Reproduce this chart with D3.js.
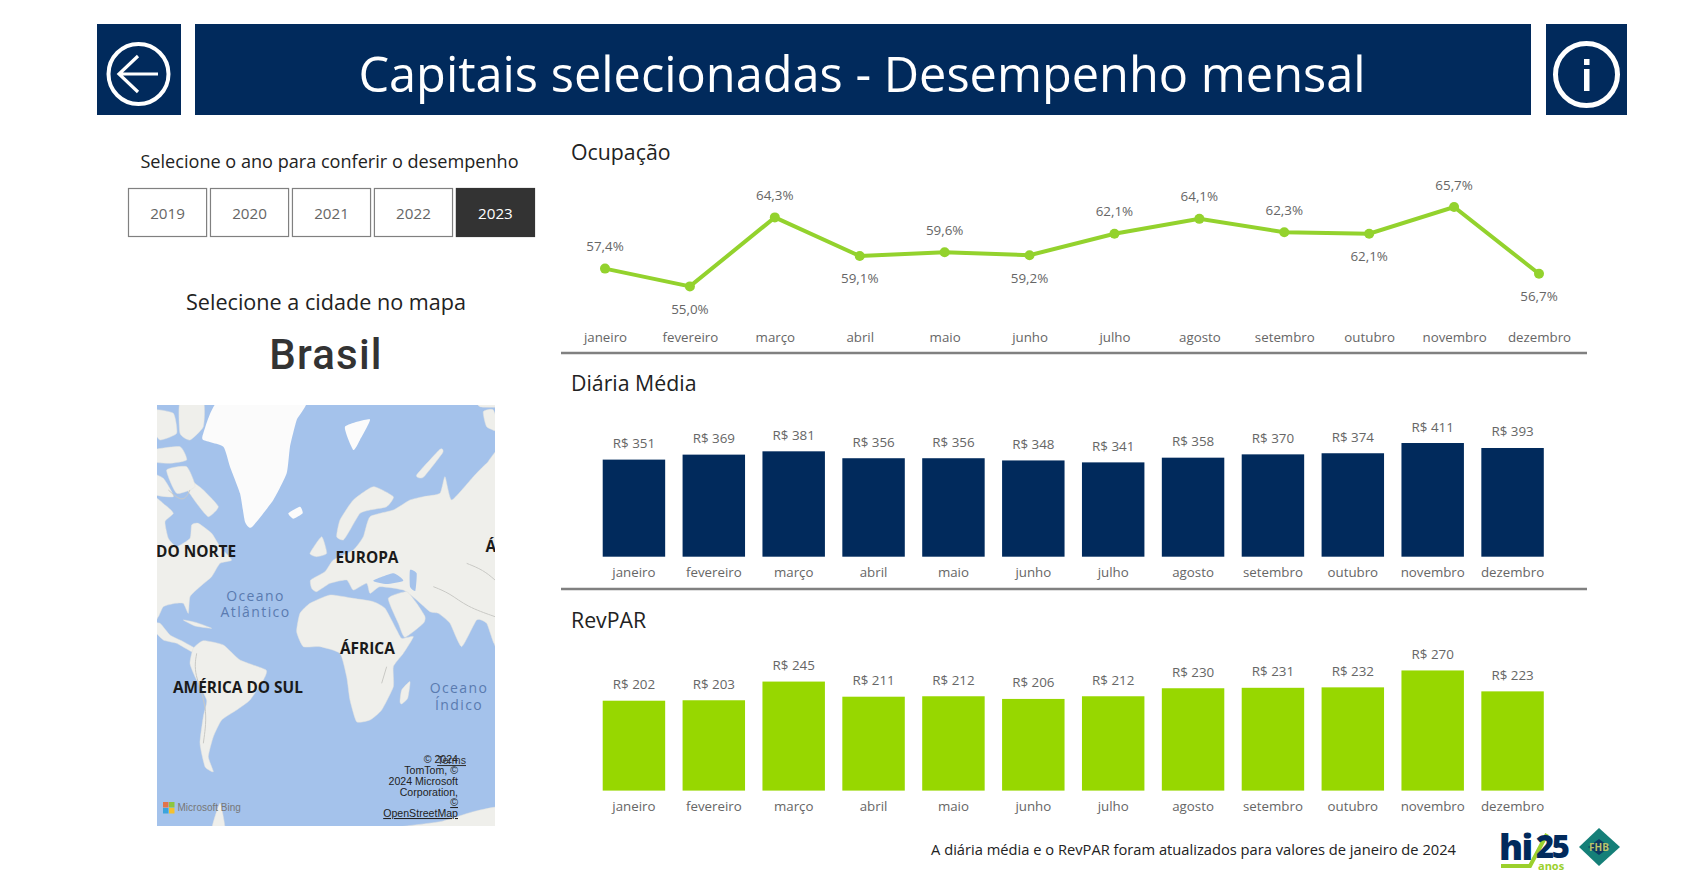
<!DOCTYPE html>
<html lang="pt-BR"><head><meta charset="utf-8">
<script src="https://cdn.jsdelivr.net/npm/d3@7/dist/d3.min.js"></script>
<style>
html,body{margin:0;padding:0;background:#fff;overflow:hidden}
svg{display:block}
text{font-family:"Open Sans","Noto Sans",sans-serif}
</style></head><body><div id="c"></div>
<script>
const months=["janeiro","fevereiro","março","abril","maio","junho","julho","agosto","setembro","outubro","novembro","dezembro"];
const ocupacao=[57.4,55.0,64.3,59.1,59.6,59.2,62.1,64.1,62.3,62.1,65.7,56.7];
const ocupacaoLabelBelow=[false,true,false,true,false,true,false,false,false,true,false,true];
const diaria=[351,369,381,356,356,348,341,358,370,374,411,393];
const revpar=[202,203,245,211,212,206,212,230,231,232,270,223];
const anos=["2019","2020","2021","2022","2023"];
const anoSelecionado="2023";

const NAVY="#012a5c",GREEN="#97d700",LINE="#93d22d",GREY="#666";
const svg=d3.select("#c").append("svg").attr("width",1682).attr("height",886);
svg.append("rect").attr("width",1682).attr("height",886).attr("fill","#fff");

// header
const head=svg.append("g");
head.append("rect").attr("x",97).attr("y",24).attr("width",84).attr("height",91).attr("fill",NAVY);
head.append("rect").attr("x",195).attr("y",24).attr("width",1336).attr("height",91).attr("fill",NAVY);
head.append("rect").attr("x",1546).attr("y",24).attr("width",81).attr("height",91).attr("fill",NAVY);
head.append("text").attr("x",862).attr("y",92).attr("text-anchor","middle").attr("fill","#fff")
  .attr("font-size",48.7).text("Capitais selecionadas - Desempenho mensal");
head.append("circle").attr("cx",138.5).attr("cy",74).attr("r",30).attr("fill","none").attr("stroke","#fff").attr("stroke-width",4);
head.append("path").attr("d","M158 74H120M138 56L119 74L138 92").attr("fill","none").attr("stroke","#fff").attr("stroke-width",3.2);
head.append("circle").attr("cx",1586.5).attr("cy",74.5).attr("r",31).attr("fill","none").attr("stroke","#fff").attr("stroke-width",5);
head.append("rect").attr("x",1584).attr("y",59).attr("width",5.5).attr("height",6).attr("fill","#fff");
head.append("rect").attr("x",1584).attr("y",69).attr("width",5.5).attr("height",22).attr("fill","#fff");

// year slicer
svg.append("text").attr("x",329.5).attr("y",168).attr("text-anchor","middle").attr("fill","#222").attr("font-size",18.1)
  .text("Selecione o ano para conferir o desempenho");
const yearX=d3.scaleBand().domain(anos).range([128,535]).paddingInner(0.035);
const yr=svg.selectAll("g.yr").data(anos).join("g").attr("class","yr");
yr.append("rect").attr("x",d=>yearX(d)+.5).attr("y",188.5).attr("width",yearX.bandwidth()-1).attr("height",48)
  .attr("fill",d=>d===anoSelecionado?"#333":"#fff").attr("stroke",d=>d===anoSelecionado?"#333":"#808080").attr("stroke-width",1.2);
yr.append("text").attr("x",d=>yearX(d)+yearX.bandwidth()/2).attr("y",219).attr("text-anchor","middle")
  .attr("font-size",15.2).attr("fill",d=>d===anoSelecionado?"#fff":"#666").text(d=>d);

svg.append("text").attr("x",326).attr("y",310).attr("text-anchor","middle").attr("fill","#222").attr("font-size",21.6)
  .text("Selecione a cidade no mapa");
svg.append("text").attr("x",326).attr("y",369).attr("text-anchor","middle").attr("fill","#333").attr("font-size",42)
  .attr("font-weight",500).style("font-family","Roboto").style("letter-spacing","1.2px").text("Brasil");

// map (schematic background, coordinates in 3x crop units)
const defs=svg.append("defs");
defs.append("clipPath").attr("id","mc").append("rect").attr("x",157).attr("y",405).attr("width",338).attr("height",421);
const mapG=svg.append("g").attr("clip-path","url(#mc)");
mapG.append("rect").attr("x",157).attr("y",405).attr("width",338).attr("height",421).attr("fill","#a4c2eb");
const m=mapG.append("g").attr("transform","translate(140,390) scale(0.33333)");
const blob=d3.line().curve(d3.curveCardinalClosed.tension(.5));
const lands=[
 [[30,330],[75,345],[100,370],[75,395],[85,445],[110,470],[150,445],[155,405],[175,400],[215,430],[240,470],[275,510],[240,520],[215,560],[180,590],[150,620],[145,670],[130,640],[105,640],[70,650],[55,680],[30,700]],
 [[150,270],[190,300],[235,350],[205,380],[170,340],[130,280]],
 [[120,35],[190,35],[190,110],[150,150],[120,130]],
 [[40,60],[100,70],[110,130],[60,150],[40,120]],
 [[40,180],[120,170],[140,210],[90,220],[40,215]],
 [[80,240],[140,230],[165,290],[110,310]],
 [[30,250],[70,265],[100,320],[30,310]],
 [[130,690],[170,698],[215,715],[165,708]],
 [[30,700],[60,700],[90,735],[130,755],[165,775],[155,785],[110,760],[70,750],[40,720]],
 [[160,775],[190,752],[250,765],[300,810],[378,840],[370,870],[330,930],[290,960],[245,990],[220,1040],[205,1100],[220,1145],[195,1130],[180,1060],[190,980],[200,930],[165,860],[150,820]],
 [[470,725],[480,670],[510,640],[570,615],[640,625],[700,635],[735,655],[770,720],[785,745],[820,740],[790,790],[760,830],[760,890],[725,960],[690,990],[650,995],[630,930],[620,860],[600,790],[540,770],[490,770]],
 [[780,935],[785,900],[810,875],[803,925],[785,942]],
 [[515,595],[512,570],[555,545],[580,510],[640,480],[670,440],[690,380],[760,360],[810,330],[850,320],[900,310],[915,260],[935,330],[1000,260],[1040,220],[1090,190],[1090,790],[1062,760],[1040,700],[1010,690],[965,770],[930,700],[895,670],[870,665],[830,630],[790,600],[720,590],[690,610],[680,580],[640,600],[620,570],[570,580],[530,605]],
 [[590,440],[600,390],[640,330],[700,290],[760,320],[740,350],[690,360],[660,370],[630,420],[610,450]],
 [[745,625],[800,605],[830,640],[855,680],[850,700],[795,742],[775,700]],
 [[510,490],[545,440],[560,490],[530,500]],
 [[830,255],[900,178],[908,188],[850,262]],
 [[1030,65],[1060,60],[1080,125],[1040,110]],
 [[1000,20],[1090,20],[1090,50],[1020,50]],
 [[720,1320],[900,1295],[1000,1265],[1090,1250],[1090,1320]],
 [[215,1320],[240,1240],[255,1320]]
];
const whites=[
 [[190,130],[240,30],[495,30],[470,90],[450,170],[440,250],[400,330],[335,412],[315,395],[300,310],[270,230],[250,170],[190,150]],
 [[615,110],[690,88],[660,150],[640,180]],
 [[445,370],[480,350],[488,370],[460,386]]
];
const seas=[
 [[700,572],[760,550],[790,572],[740,582]],
 [[810,540],[830,550],[826,602],[810,590]]
];
const relief=[
 [[880,590],[930,610],[980,650],[1065,680]],[[980,520],[1030,540],[1065,570]],[[170,790],[160,850],[205,950],[190,1060]],[[150,300],[130,340],[85,300]],[[740,830],[725,880]]
];
m.selectAll("path.l").data(lands).join("path").attr("class","l").attr("d",blob).attr("fill","#efefeb").attr("stroke","#e2e2de").attr("stroke-width",1.5);
m.selectAll("path.w").data(whites).join("path").attr("class","w").attr("d",blob).attr("fill","#fbfbfb");
m.selectAll("path.s").data(seas).join("path").attr("class","s").attr("d",blob).attr("fill","#a4c2eb");
m.selectAll("path.r").data(relief).join("path").attr("class","r").attr("d",d3.line().curve(d3.curveBasis)).attr("fill","none").attr("stroke","#c9c9c5").attr("stroke-width",3);
const ml=[["DO NORTE",156,557],["EUROPA",335.5,563],["ÁFRICA",340,654],["AMÉRICA DO SUL",173,692.5],["Á",485.5,551.5]];
mapG.selectAll("text.ml").data(ml).join("text").attr("class","ml").attr("x",d=>d[1]).attr("y",d=>d[2])
  .attr("font-size",15.4).attr("font-weight",700).attr("fill","#1a1a1a").text(d=>d[0]);
const oc=[["Oceano",255.5,601],["Atlântico",255.5,617],["Oceano",459,693],["Índico",459,710]];
mapG.selectAll("text.oc").data(oc).join("text").attr("class","oc").attr("x",d=>d[1]).attr("y",d=>d[2]).attr("text-anchor","middle")
  .attr("font-size",14).attr("fill","#5a7bb0").style("letter-spacing","1.4px").text(d=>d[0]);
const attrib=[["© 2024",763],["TomTom, ©",773.5],["2024 Microsoft",784.5],["Corporation,",795.5],["©",806],["OpenStreetMap",817]];
mapG.selectAll("text.at").data(attrib).join("text").attr("class","at").attr("x",458).attr("y",d=>d[1]).attr("text-anchor","end")
  .attr("font-size",10.6).attr("fill","#222").style("font-family","Liberation Sans")
  .attr("text-decoration",d=>d[0]==="OpenStreetMap"||d[0]==="©"?"underline":null).text(d=>d[0]);
mapG.append("text").attr("x",466).attr("y",764).attr("text-anchor","end").attr("font-size",10.6).attr("fill","#333")
  .style("font-family","Liberation Sans").attr("text-decoration","underline").text("Terms");
[["#e2734a",163,802],["#8dc63f",169,802],["#3ba4dc",163,808],["#f5c12e",169,808]].forEach(d=>
  mapG.append("rect").attr("x",d[1]).attr("y",d[2]).attr("width",5.5).attr("height",5.5).attr("fill",d[0]));
mapG.append("text").attr("x",177.5).attr("y",811).attr("font-size",10).attr("fill","#777").style("font-family","Liberation Sans").text("Microsoft Bing");

// shared chart helpers
const panelTitle=(t,y)=>svg.append("text").attr("x",571).attr("y",y).attr("fill","#222").attr("font-size",21.3).text(t);
const divider=y=>svg.append("line").attr("x1",561).attr("x2",1587).attr("y1",y).attr("y2",y).attr("stroke","#808080").attr("stroke-width",2.4);
function bottomAxis(scale,y){
  const g=svg.append("g").attr("transform",`translate(0,${y})`).call(d3.axisBottom(scale).tickSize(0).tickPadding(0));
  g.select(".domain").remove();
  g.selectAll("text").attr("font-size",13.3).attr("fill",GREY).attr("dy",0).attr("y",0).style("font-family",'"Open Sans"');
}

// Ocupação
panelTitle("Ocupação",159.5);
const xLine=d3.scalePoint().domain(months).range([605,1539]);
const yLine=d3.scaleLinear().domain([55,65.7]).range([286.4,207]);
const ocData=months.map((m,i)=>({m,v:ocupacao[i],below:ocupacaoLabelBelow[i]}));
svg.append("path").datum(ocData).attr("fill","none").attr("stroke",LINE).attr("stroke-width",4)
  .attr("d",d3.line().x(d=>xLine(d.m)).y(d=>yLine(d.v)));
svg.selectAll("circle.pt").data(ocData).join("circle").attr("class","pt").attr("cx",d=>xLine(d.m)).attr("cy",d=>yLine(d.v)).attr("r",5).attr("fill",LINE);
svg.selectAll("text.pl").data(ocData).join("text").attr("class","pl").attr("x",d=>xLine(d.m))
  .attr("y",d=>yLine(d.v)+(d.below?27.5:-17.5)).attr("text-anchor","middle").attr("font-size",13.4).attr("fill",GREY)
  .text(d=>d.v.toFixed(1).replace(".",",")+"%");
bottomAxis(xLine,342);
divider(353);

// bars
function bars(values,color,y0,k,axisY){
  const x=d3.scaleBand().domain(months).range([594,1552.5]).paddingInner(.218).paddingOuter(.109);
  const y=d3.scaleLinear().domain([0,100]).range([y0,y0-100*k]);
  const data=months.map((m,i)=>({m,v:values[i]}));
  svg.append("g").selectAll("rect").data(data).join("rect").attr("x",d=>x(d.m)).attr("width",x.bandwidth())
    .attr("y",d=>y(d.v)).attr("height",d=>y0-y(d.v)).attr("fill",color);
  svg.append("g").selectAll("text").data(data).join("text").attr("x",d=>x(d.m)+x.bandwidth()/2).attr("y",d=>y(d.v)-11.5)
    .attr("text-anchor","middle").attr("font-size",13.4).attr("fill",GREY).text(d=>"R$ "+d.v);
  bottomAxis(x,axisY);
}
panelTitle("Diária Média",390.5);
bars(diaria,NAVY,556.7,.2766,577);
divider(589);
panelTitle("RevPAR",627.5);
bars(revpar,GREEN,790.6,.445,810.5);

// footer
svg.append("text").attr("x",1456).attr("y",855).attr("text-anchor","end").attr("fill","#222").attr("font-size",14.7)
  .text("A diária média e o RevPAR foram atualizados para valores de janeiro de 2024");
const logo=svg.append("g");
logo.append("text").attr("x",1499).attr("y",860).attr("font-size",36).attr("font-weight",800).attr("fill",NAVY).style("letter-spacing","-1.5px").text("hi");
logo.append("path").attr("d","M1501 866H1530L1547 834").attr("fill","none").attr("stroke","#9bd02c").attr("stroke-width",4);
logo.append("text").attr("x",1536).attr("y",858).attr("font-size",31).attr("font-weight",800).attr("fill",NAVY).style("letter-spacing","-2.5px").text("25");
logo.append("text").attr("x",1538).attr("y",870).attr("font-size",11).attr("font-weight",700).attr("fill","#9bd02c").text("anos");
logo.append("path").attr("d","M1579 847L1599 828L1620 847L1599 866Z").attr("fill","#157f78");
logo.append("path").attr("d","M1588 847L1599 839L1610 847L1599 855Z").attr("fill","#0d3b63");
logo.append("text").attr("x",1599).attr("y",851).attr("text-anchor","middle").attr("font-size",10).attr("font-weight",700).attr("fill","#b9c46a").text("FHB");
</script></body></html>
